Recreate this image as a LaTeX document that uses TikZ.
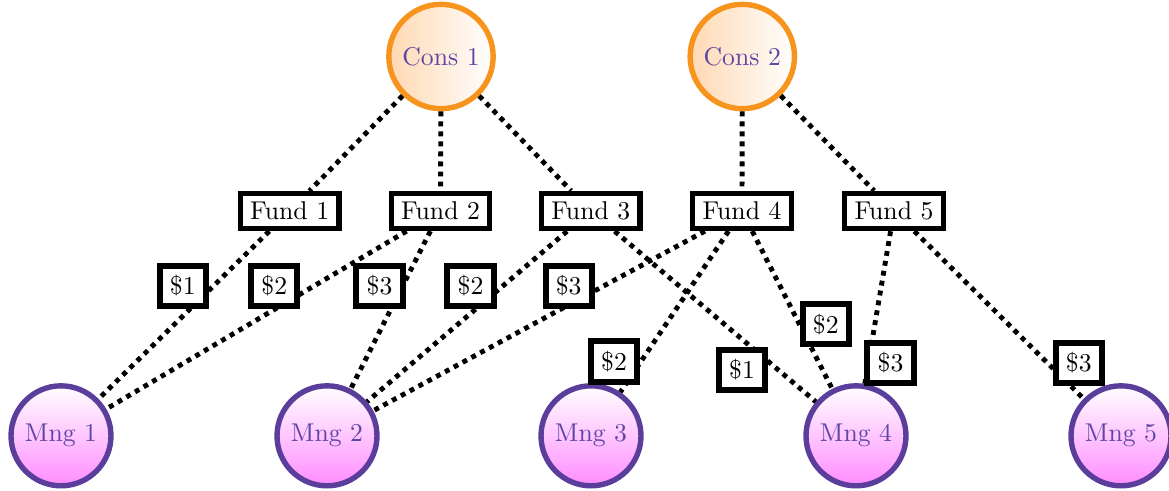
\documentclass[tikz,border=0pt]{standalone}
\definecolor{consor}{RGB}{247,148,29}
\definecolor{mngpu}{RGB}{91,62,155}
\definecolor{txtpu}{RGB}{95,70,165}
\begin{document}
\begin{tikzpicture}[x=0.3891pt, y=-0.3891pt,
  cons/.style={circle, draw=consor, line width=2.1pt, minimum size=40.6pt, inner sep=0pt,
    left color=orange!30, right color=white, text=txtpu},
  mng/.style={circle, draw=mngpu, line width=2.1pt, minimum size=38.9pt, inner sep=0pt,
    top color=white, bottom color=magenta!45, text=txtpu},
  fund/.style={rectangle, draw=black, fill=white, line width=2pt, inner xsep=3.8pt, inner ysep=3.3pt},
  lbl/.style={rectangle, draw=black, fill=white, line width=2.3pt, inner xsep=4pt, inner ysep=3.8pt},
  link/.style={draw=black, line width=1.9pt, dotted}]
\useasboundingbox (0,0) rectangle (1169,490);

% consumers
\node[cons] (c1) at (441,56.5) {Cons 1};
\node[cons] (c2) at (742.3,56.5) {Cons 2};

% funds
\node[fund] (f1) at (289.7,211) {Fund 1};
\node[fund] (f2) at (440.5,211) {Fund 2};
\node[fund] (f3) at (590.8,211) {Fund 3};
\node[fund] (f4) at (742,211) {Fund 4};
\node[fund] (f5) at (894,211) {Fund 5};

% managers
\node[mng] (m1) at (61,435.8) {Mng 1};
\node[mng] (m2) at (327,435.8) {Mng 2};
\node[mng] (m3) at (591,435.8) {Mng 3};
\node[mng] (m4) at (856,435.8) {Mng 4};
\node[mng] (m5) at (1121,435.8) {Mng 5};

% connectors
\draw[link] (c1) -- (f1);
\draw[link] (c1) -- (f2);
\draw[link] (c1) -- (f3);
\draw[link] (c2) -- (f4);
\draw[link] (c2) -- (f5);

\draw[link] (f1) -- (m1);
\draw[link] (f2) -- (m1);
\draw[link] (f2) -- (m2);
\draw[link] (f3) -- (m2);
\draw[link] (f3) -- (m4);
\draw[link] (f4) -- (m2);
\draw[link] (f4) -- (m3);
\draw[link] (f4) -- (m4);
\draw[link] (f5) -- (m4);
\draw[link] (f5) -- (m5);

% amount labels
\node[lbl] (l1) at (182.8,285.8) {\$1};
\node[lbl] (l2) at (274.3,285.8) {\$2};
\node[lbl] (l3) at (379.5,285.8) {\$3};
\node[lbl] (l4) at (470.5,285.8) {\$2};
\node[lbl] (l5) at (568.7,285.8) {\$3};
\node[lbl] (l6) at (614,361.5) {\$2};
\node[lbl] (l7) at (742,370) {\$1};
\node[lbl] (l8) at (825.8,324.3) {\$2};
\node[lbl] (l9) at (890.5,362.7) {\$3};
\node[lbl] (l10) at (1078.8,362.7) {\$3};
\end{tikzpicture}
\end{document}
